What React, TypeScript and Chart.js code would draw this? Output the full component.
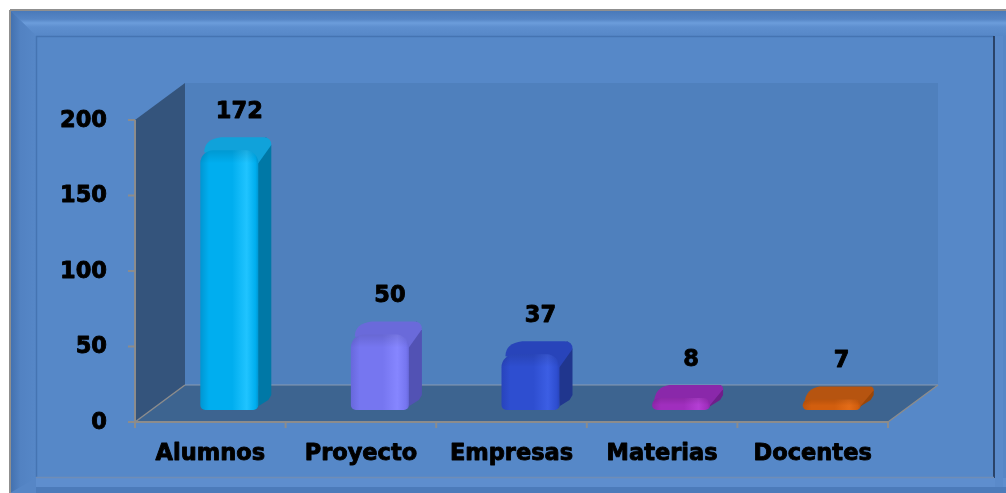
import React, { useEffect, useRef } from "react";
import { Chart, registerables } from "chart.js";

Chart.register(...registerables);

const categories = ["Alumnos", "Proyecto", "Empresas", "Materias", "Docentes"];
const values = [172, 50, 37, 8, 7];
const yTicks = [0, 50, 100, 150, 200];

const frontColors = ["#00AEEF", "#7676F0", "#2E4ED0", "#A02EBE", "#D25E0E"];
const highlightColors = ["#20C4FF", "#8686FF", "#3C5EE4", "#B43ED4", "#E46C18"];
const edgeColors = ["#0096D2", "#6868DC", "#2844BC", "#8E26AA", "#BC540C"];
const sideColors = ["#0078A6", "#5252B4", "#20368E", "#6E1E8A", "#9A4608"];
const topColors = ["#10A2DA", "#6A6ADA", "#2844BA", "#8A28AA", "#B65410"];

const FONT = "bold 22.5px 'DejaVu Sans'";
const FRONT = { dx: -19, dy: 12 };
const BACK = { dx: 31, dy: -25 };
const DEPTH = { dx: 13, dy: -13 };

function poly(ctx: CanvasRenderingContext2D, pts: number[][], fill?: string) {
  ctx.beginPath();
  ctx.moveTo(pts[0][0], pts[0][1]);
  for (let i = 1; i < pts.length; i++) ctx.lineTo(pts[i][0], pts[i][1]);
  ctx.closePath();
  if (fill) {
    ctx.fillStyle = fill;
    ctx.fill();
  }
}

function line(ctx: CanvasRenderingContext2D, x1: number, y1: number, x2: number, y2: number, c: string, lw = 1.5) {
  ctx.beginPath();
  ctx.moveTo(x1, y1);
  ctx.lineTo(x2, y2);
  ctx.strokeStyle = c;
  ctx.lineWidth = lw;
  ctx.stroke();
}

function heavyText(ctx: CanvasRenderingContext2D, s: string, x: number, y: number) {
  ctx.font = FONT;
  ctx.fillStyle = "#000";
  ctx.strokeStyle = "#000";
  ctx.lineWidth = 0.9;
  ctx.lineJoin = "round";
  ctx.fillText(s, x, y);
  ctx.strokeText(s, x, y);
}

const scenePlugin = {
  id: "scene",
  beforeDraw(chart: any) {
    const ctx: CanvasRenderingContext2D = chart.ctx;
    const W = chart.width;
    const H = chart.height;
    ctx.save();
    ctx.fillStyle = "#ffffff";
    ctx.fillRect(0, 0, W, H);
    ctx.fillStyle = "#5686C6";
    ctx.fillRect(10, 10, W - 10, H - 10);
    let g = ctx.createLinearGradient(0, 10, 0, 36);
    g.addColorStop(0, "#4878B8");
    g.addColorStop(0.35, "#5585C5");
    g.addColorStop(0.5, "#6C9DDB");
    g.addColorStop(0.65, "#5E8FCF");
    g.addColorStop(1, "#5687C7");
    poly(ctx, [[10, 10], [W, 10], [W, 36], [36, 36]]);
    ctx.fillStyle = g;
    ctx.fill();
    g = ctx.createLinearGradient(10, 0, 36, 0);
    g.addColorStop(0, "#4270AE");
    g.addColorStop(0.4, "#5282C2");
    g.addColorStop(1, "#5687C7");
    poly(ctx, [[10, 10], [36, 36], [36, 478], [10, H]]);
    ctx.fillStyle = g;
    ctx.fill();
    ctx.fillStyle = "#5E8ECE";
    ctx.fillRect(36, 478, W - 36, 9);
    ctx.fillStyle = "#4C7BBA";
    ctx.fillRect(36, 487, W - 36, H - 487);
    ctx.fillStyle = "#5A8ACA";
    ctx.fillRect(995, 36, 8, 451);
    line(ctx, 10, 10, W, 10, "#8F8F8F", 2);
    line(ctx, 10, 10, 10, H, "#8F8F8F", 2);
    ctx.fillStyle = "#5688C8";
    ctx.fillRect(36, 36, 958, 441);
    line(ctx, 36, 36.5, 994, 36.5, "#4574B2", 1.5);
    line(ctx, 36.5, 36, 36.5, 477, "#4574B2", 1.5);
    line(ctx, 994, 36, 994, 478, "#1C2C48", 1.5);
    line(ctx, 36, 477.5, 994, 477.5, "#6F8DB6", 1.5);
    ctx.restore();
  },
  beforeDatasetsDraw(chart: any) {
    const ctx: CanvasRenderingContext2D = chart.ctx;
    const xs = chart.scales.x;
    const ys = chart.scales.y;
    const L = chart.chartArea.left;
    const R = chart.chartArea.right;
    const b = ys.getPixelForValue(0);
    const t = ys.getPixelForValue(200);
    ctx.save();
    poly(ctx, [[L + BACK.dx, t + BACK.dy], [R + BACK.dx, t + BACK.dy], [R + BACK.dx, b + BACK.dy], [L + BACK.dx, b + BACK.dy]], "#4F80BD");
    poly(ctx, [[L + FRONT.dx, b + FRONT.dy], [L + FRONT.dx, t + FRONT.dy], [L + BACK.dx, t + BACK.dy], [L + BACK.dx, b + BACK.dy]], "#34547C");
    poly(ctx, [[L + FRONT.dx, b + FRONT.dy], [R + FRONT.dx, b + FRONT.dy], [R + BACK.dx, b + BACK.dy], [L + BACK.dx, b + BACK.dy]], "#3D6490");
    const gray = "#8C8C8C";
    line(ctx, L + BACK.dx, b + BACK.dy, R + BACK.dx, b + BACK.dy, "#8A9AB0", 1);
    line(ctx, L + FRONT.dx, b + FRONT.dy, L + BACK.dx, b + BACK.dy, gray, 1.5);
    line(ctx, R + FRONT.dx, b + FRONT.dy, R + BACK.dx, b + BACK.dy, gray, 1.5);
    line(ctx, L + FRONT.dx, b + FRONT.dy, R + FRONT.dx, b + FRONT.dy, gray, 2);
    line(ctx, L + FRONT.dx, t + FRONT.dy, L + FRONT.dx, b + FRONT.dy, gray, 2);
    ctx.textAlign = "right";
    ctx.textBaseline = "middle";
    yTicks.forEach((v) => {
      const y = ys.getPixelForValue(v) + FRONT.dy;
      line(ctx, L + FRONT.dx - 7, y, L + FRONT.dx, y, gray, 2);
      heavyText(ctx, String(v), 107, y + 1);
    });
    const n = categories.length;
    const step = (R - L) / n;
    for (let i = 0; i <= n; i++) {
      const x = L + FRONT.dx + i * step;
      line(ctx, x, b + FRONT.dy, x, b + FRONT.dy + 6, gray, 2);
    }
    ctx.textAlign = "center";
    categories.forEach((c, i) => {
      const x = xs.getPixelForValue(i) + FRONT.dx;
      heavyText(ctx, c, x, b + FRONT.dy + 32);
    });
    ctx.restore();
  },
  afterDatasetsDraw(chart: any) {
    const ctx: CanvasRenderingContext2D = chart.ctx;
    const meta = chart.getDatasetMeta(0);
    ctx.save();
    meta.data.forEach((el: any, i: number) => {
      const w = el.width;
      const x0 = el.x - w / 2;
      const x1 = el.x + w / 2;
      const yT = el.y;
      const yB = el.base;
      const h = yB - yT;
      const r = Math.min(13, h / 2 + 1);
      const dx = DEPTH.dx;
      const dy = DEPTH.dy;
      // side face
      poly(ctx, [[x1 - 6, yB], [x1 + dx - 3, yB + dy + 3], [x1 + dx, yB + dy - 2], [x1 + dx, yT + dy + r * 0.6], [x1 + dx - r * 0.4, yT + dy], [x1 - r, yT], [x1 - 2, yT + r], [x1, yB - 3]], sideColors[i]);
      // top face
      ctx.beginPath();
      ctx.moveTo(x0 + r * 0.3, yT + 2);
      ctx.quadraticCurveTo(x0 + dx * 0.3, yT + dy + 2, x0 + dx + r * 0.6, yT + dy);
      ctx.lineTo(x1 + dx - r * 0.6, yT + dy);
      ctx.quadraticCurveTo(x1 + dx, yT + dy, x1 + dx, yT + dy + r * 0.6);
      ctx.lineTo(x1, yT + r);
      ctx.closePath();
      ctx.fillStyle = topColors[i];
      ctx.fill();
      // front face
      const g = ctx.createLinearGradient(x0, 0, x1, 0);
      g.addColorStop(0, edgeColors[i]);
      g.addColorStop(0.15, frontColors[i]);
      g.addColorStop(0.55, frontColors[i]);
      g.addColorStop(0.8, highlightColors[i]);
      g.addColorStop(0.95, frontColors[i]);
      g.addColorStop(1, edgeColors[i]);
      ctx.beginPath();
      (ctx as any).roundRect(x0, yT, w, h, [r, r, 5, 5]);
      ctx.fillStyle = g;
      ctx.fill();
      // top rounding shading
      const tg = ctx.createLinearGradient(0, yT, 0, yT + r);
      tg.addColorStop(0, "rgba(0,0,0,0.12)");
      tg.addColorStop(1, "rgba(0,0,0,0)");
      ctx.beginPath();
      (ctx as any).roundRect(x0, yT, w, Math.min(r, h), [r, r, 0, 0]);
      ctx.fillStyle = tg;
      ctx.fill();
      ctx.textAlign = "center";
      ctx.textBaseline = "middle";
      heavyText(ctx, String(values[i]), el.x + 10, yT - 38);
    });
    ctx.restore();
  },
};

export default function App() {
  const ref = useRef<HTMLCanvasElement | null>(null);
  useEffect(() => {
    document.body.style.margin = "0";
    const canvas = ref.current!;
    const chart = new Chart(canvas, {
      type: "bar",
      data: {
        labels: categories,
        datasets: [
          {
            data: values,
            backgroundColor: "rgba(0,0,0,0)",
            borderWidth: 0,
            barThickness: 58,
          },
        ],
      },
      options: {
        responsive: false,
        animation: false,
        events: [],
        layout: { padding: { left: 154, right: 99, top: 108, bottom: 83 } },
        plugins: { legend: { display: false }, tooltip: { enabled: false } },
        scales: {
          x: { display: false, offset: true },
          y: { display: false, min: 0, max: 200 },
        },
      },
      plugins: [scenePlugin],
    });
    return () => chart.destroy();
  }, []);
  return (
    <div style={{ position: "absolute", left: 0, top: 0, width: 1006, height: 493 }}>
      <canvas ref={ref} width={1006} height={493} style={{ display: "block" }} />
    </div>
  );
}
